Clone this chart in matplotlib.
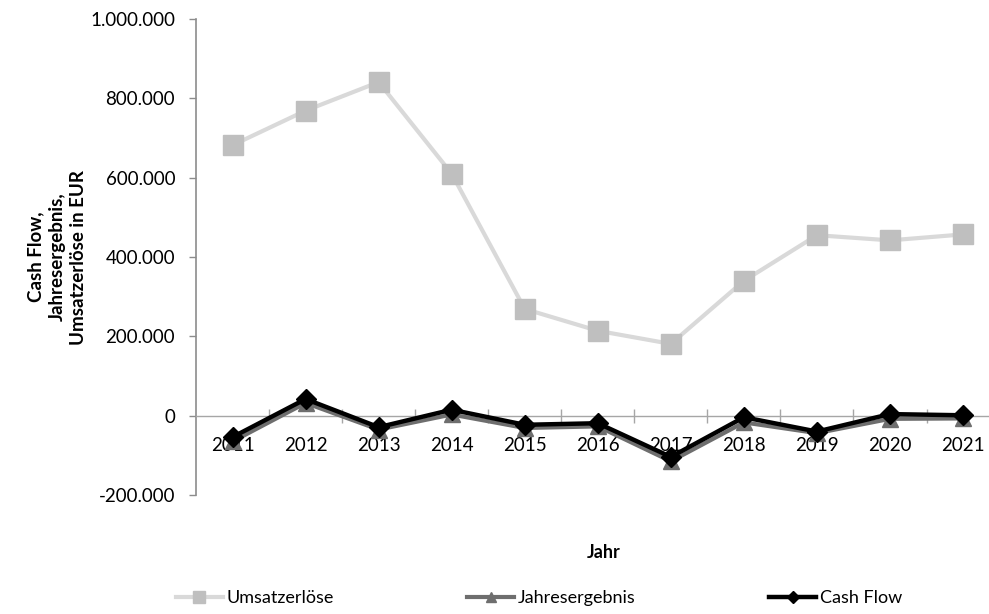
import matplotlib.pyplot as plt
import matplotlib.ticker as mticker

# Werte je Geschäftsjahr in EUR
jahre = ['2011', '2012', '2013', '2014', '2015', '2016', '2017', '2018', '2019', '2020', '2021']
umsatzerloese = [682000, 769000, 841000, 610000, 269000, 214000, 181000, 340000, 455000, 442000, 457000]
jahresergebnis = [-65000, 32000, -35000, 3000, -31000, -27000, -115000, -17000, -44000, -8000, -7000]
cash_flow = [-54000, 42000, -29000, 15000, -23000, -19000, -104000, -4000, -40000, 4000, 1000]


def tausender(v, pos):
    # deutsche Schreibweise mit Punkt als Tausendertrenner
    return f'{int(v):,}'.replace(',', '.')


def main():
    plt.rcParams['font.family'] = ['Lato', 'DejaVu Sans']
    fig = plt.figure(figsize=(9.89, 6.14), dpi=100)
    ax = fig.add_axes([0.1982, 0.1938, 0.8125, 0.7752])

    x = list(range(len(jahre)))
    ax.plot(x, umsatzerloese, '-', color='#d9d9d9', linewidth=3,
            marker='s', markersize=14, markerfacecolor='#bfbfbf',
            markeredgecolor='#bfbfbf', label='Umsatzerlöse', zorder=3)
    ax.plot(x, jahresergebnis, '-', color='#6e6e6e', linewidth=3,
            marker='^', markersize=11, markerfacecolor='#6e6e6e',
            markeredgecolor='#6e6e6e', label='Jahresergebnis', zorder=4)
    ax.plot(x, cash_flow, '-', color='black', linewidth=3.2,
            marker='D', markersize=10, markerfacecolor='black',
            markeredgecolor='black', label='Cash Flow', zorder=5)

    ax.set_xlim(-0.5, 10.5)
    ax.set_ylim(-200000, 1000000)
    ax.yaxis.set_major_locator(mticker.MultipleLocator(200000))
    ax.yaxis.set_major_formatter(mticker.FuncFormatter(tausender))

    # Achsen: links grau, waagrechte Achse auf der Nulllinie
    for s in ['top', 'right']:
        ax.spines[s].set_visible(False)
    ax.spines['left'].set_color('#8c8c8c')
    ax.spines['left'].set_linewidth(1.2)
    ax.spines['bottom'].set_position(('data', 0))
    ax.spines['bottom'].set_color('#a6a6a6')
    ax.spines['bottom'].set_linewidth(1.0)

    ax.set_xticks(x)
    ax.set_xticklabels(jahre)
    ax.set_xticks([i + 0.5 for i in x[:-1]], minor=True)
    ax.tick_params(axis='x', which='major', length=0, pad=15, labelsize=13.5, colors='black')
    ax.tick_params(axis='x', which='minor', direction='inout', length=10,
                   color='#a6a6a6', width=1.0)
    ax.tick_params(axis='y', direction='out', length=5, color='#8c8c8c',
                   width=1.0, pad=10, labelsize=13.5)

    ax.set_ylabel('Cash Flow,\nJahresergebnis,\nUmsatzerlöse in EUR',
                  fontsize=13.5, fontweight='bold', linespacing=1.3)
    ax.yaxis.set_label_coords(-0.136, 0.5)
    fig.text(0.61, 0.1, 'Jahr', ha='center', va='center', fontsize=13, fontweight='bold')

    fig.legend(loc='center', bbox_to_anchor=(0.545, 0.026), ncol=3, frameon=False,
               fontsize=13, handlelength=2.6, handletextpad=0.2,
               columnspacing=7.4, markerscale=0.6)

    fig.savefig('out.png', dpi=100)


if __name__ == '__main__':
    main()
